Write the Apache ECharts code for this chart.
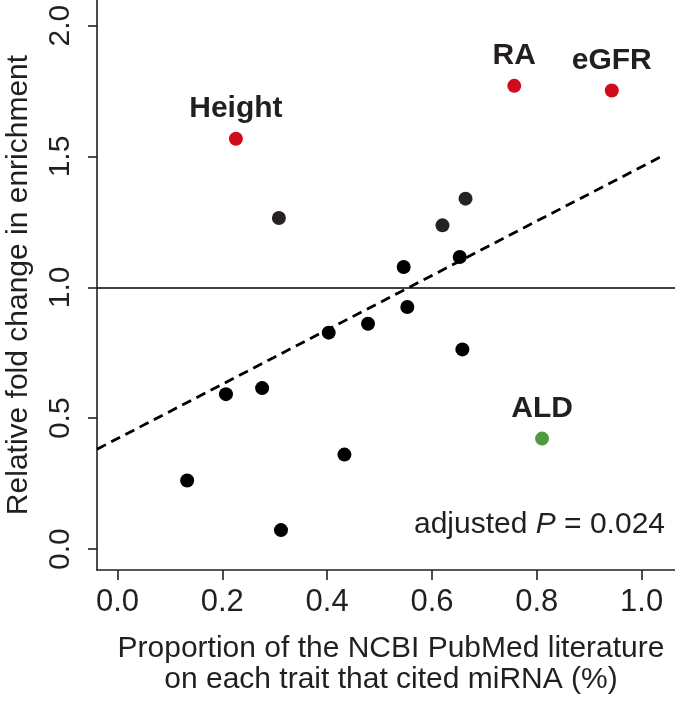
<!DOCTYPE html>
<html>
<head>
<meta charset="utf-8">
<script src="https://cdn.jsdelivr.net/npm/echarts@6/dist/echarts.min.js"></script>
<style>
html,body{margin:0;padding:0;background:#fff;}
#chart{width:675px;height:705px;}
</style>
</head>
<body>
<div id="chart"></div>
<script>
// ---- data ----
var otherX = [0.207, 0.276, 0.403, 0.478, 0.553, 0.546, 0.653, 0.658, 0.133, 0.433, 0.312];
var otherY = [0.592, 0.615, 0.827, 0.861, 0.925, 1.078, 1.116, 0.763, 0.262, 0.361, 0.0725];
var greyX = [0.308, 0.620, 0.664];
var greyY = [1.265, 1.237, 1.339];
var highNames = ['Height', 'RA', 'eGFR'];
var highX = [0.226, 0.757, 0.943];
var highY = [1.568, 1.770, 1.752];
var lowNames = ['ALD'];
var lowX = [0.810];
var lowY = [0.422];
var fitIntercept = 0.422;
var fitSlope = 1.039;
var fitRange = [-0.039, 1.041];
var xTicks = [0.0, 0.2, 0.4, 0.6, 0.8, 1.0];
var yTicks = [0.0, 0.5, 1.0, 1.5, 2.0];
var referenceY = 1.0;
var xTitle = 'Proportion of the NCBI PubMed literature\non each trait that cited miRNA (%)';
var yTitle = 'Relative fold change in enrichment';

function pairs(xs, ys) { return xs.map(function (x, i) { return [x, ys[i]]; }); }
function named(xs, ys, ns) { return xs.map(function (x, i) { return { value: [x, ys[i]], name: ns[i] }; }); }
var fitData = fitRange.map(function (x) { return [x, fitIntercept + fitSlope * x]; });

var FONT = '"Liberation Sans", Arial, Helvetica, sans-serif';
var TXT = '#231f20';

var chart = echarts.init(document.getElementById('chart'), null, { renderer: 'canvas' });
chart.setOption({
  backgroundColor: '#ffffff',
  animation: false,
  textStyle: { fontFamily: FONT },
  grid: { left: 97, right: 0, top: 0, bottom: 135, containLabel: false, outerBoundsMode: 'none' },
  xAxis: {
    type: 'value', min: -0.039, max: 1.0636,
    splitLine: { show: false },
    axisLine: { show: true, onZero: false, lineStyle: { color: TXT, width: 1.6 } },
    axisTick: { show: true, length: 10, customValues: xTicks, lineStyle: { color: TXT, width: 1.6 } },
    axisLabel: { customValues: xTicks, margin: 17, fontSize: 31, color: TXT, fontFamily: FONT,
      formatter: function (v) { return v.toFixed(1); } },
    name: xTitle, nameLocation: 'middle', nameGap: 63,
    nameTextStyle: { fontSize: 30, lineHeight: 31, color: TXT, fontFamily: FONT, padding: [0, 0, 0, 10] }
  },
  yAxis: {
    type: 'value', min: -0.08, max: 2.098,
    splitLine: { show: false },
    axisLine: { show: true, onZero: false, lineStyle: { color: TXT, width: 1.6 } },
    axisTick: { show: true, length: 9, customValues: yTicks, lineStyle: { color: TXT, width: 1.6 } },
    axisLabel: { customValues: yTicks, margin: 21, rotate: 90, fontSize: 30, color: TXT, fontFamily: FONT,
      formatter: function (v) { return v.toFixed(1); } },
    name: yTitle, nameLocation: 'middle', nameGap: 63,
    nameTextStyle: { fontSize: 30, color: TXT, fontFamily: FONT }
  },
  series: [
    {
      type: 'line', data: fitData, showSymbol: false, symbol: 'none', silent: true,
      lineStyle: { color: '#000', width: 2.8, type: [10, 6], opacity: 1 },
      markLine: {
        silent: true, symbol: 'none', label: { show: false },
        lineStyle: { color: '#000', width: 1.6, type: 'solid', opacity: 1 },
        data: [{ yAxis: referenceY }]
      },
      z: 2
    },
    { type: 'scatter', data: pairs(otherX, otherY), symbolSize: 14, itemStyle: { color: '#000000', opacity: 1 }, z: 3 },
    { type: 'scatter', data: pairs(greyX, greyY), symbolSize: 14, itemStyle: { color: '#272222', opacity: 1 }, z: 3 },
    {
      type: 'scatter', data: named(highX, highY, highNames), symbolSize: 14, itemStyle: { color: '#d10a1e', opacity: 1 }, z: 3,
      label: { show: true, position: 'top', distance: 8, formatter: '{b}', fontSize: 30, fontWeight: 'bold',
        color: TXT, opacity: 1, fontFamily: FONT }
    },
    {
      type: 'scatter', data: named(lowX, lowY, lowNames), symbolSize: 14, itemStyle: { color: '#4f9a3e', opacity: 1 }, z: 3,
      label: { show: true, position: 'top', distance: 8, formatter: '{b}', fontSize: 30, fontWeight: 'bold',
        color: TXT, opacity: 1, fontFamily: FONT }
    }
  ],
  graphic: [{
    type: 'text', right: 10, top: 510,
    style: {
      text: '{n|adjusted }{i|P}{n| = 0.024}',
      rich: {
        n: { fontSize: 30, fontFamily: FONT, fill: TXT },
        i: { fontSize: 30, fontFamily: FONT, fontStyle: 'italic', fill: TXT }
      }
    }
  }]
});
</script>
</body>
</html>
